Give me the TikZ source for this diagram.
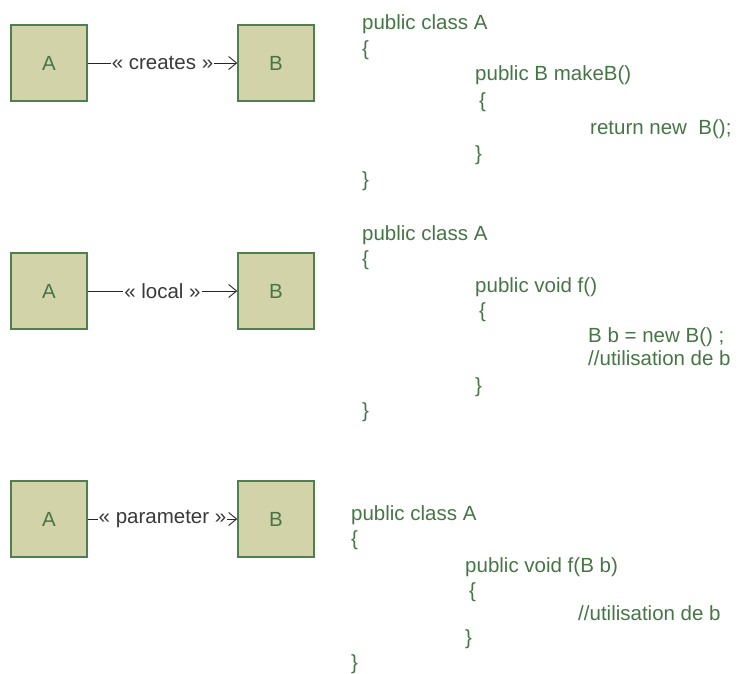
\documentclass[tikz,border=0pt]{standalone}
\usepackage{fontspec}
\setmainfont{Liberation Sans}
\usetikzlibrary{arrows.meta}
\definecolor{boxfill}{HTML}{D3D3AA}
\definecolor{boxline}{HTML}{4F7F4F}
\definecolor{codegreen}{HTML}{467546}
\definecolor{labgray}{HTML}{3A3A3A}
\begin{document}
\begin{tikzpicture}[x=1pt,y=-1pt,
  cls/.style={draw=boxline,line width=1.4pt,fill=boxfill,minimum width=76pt,minimum height=76pt,inner sep=0pt,text=codegreen,font=\fontsize{20.5}{24}\selectfont},
  code/.style={anchor=base west,inner sep=0pt,text=codegreen,font=\fontsize{20.5}{24}\selectfont},
  rel/.style={draw=black!85,line width=0.9pt,-{Straight Barb[length=8pt,width=13pt,line width=0.9pt]}},
  rellab/.style={fill=white,inner sep=1pt,text=labgray,font=\fontsize{20.5}{24}\selectfont}]
\useasboundingbox (0,0) rectangle (739,673);
% row 1
\node[cls] (a1) at (49,63) {A};
\node[cls] (b1) at (276,63) {B};
\draw[rel] (a1) -- node[rellab] (l1) {« creates »} (b1);
\node[code] (c11) at (362,29) {public class A};
\node[code] (c12) at (362,55) {\{};
\node[code] (c13) at (475,80) {public B makeB()};
\node[code] (c14) at (479,107) {\{};
\node[code] (c15) at (590,134) {return new\ \ B();};
\node[code] (c16) at (475,160) {\}};
\node[code] (c17) at (362,186) {\}};
% row 2
\node[cls] (a2) at (49,291) {A};
\node[cls] (b2) at (276,291) {B};
\draw[rel] (a2) -- node[rellab] (l2) {« local »} (b2);
\node[code] (c21) at (362,240) {public class A};
\node[code] (c22) at (362,265) {\{};
\node[code] (c23) at (475,292) {public void f()};
\node[code] (c24) at (479,317) {\{};
\node[code] (c25) at (588,342) {B b = new B() ;};
\node[code] (c26) at (588,365) {//utilisation de b};
\node[code] (c27) at (475,392) {\}};
\node[code] (c28) at (362,417) {\}};
% row 3
\node[cls] (a3) at (49,519) {A};
\node[cls] (b3) at (276,519) {B};
\draw[rel] (a3) -- node[rellab,inner sep=0.5pt] (l3) {« parameter »} (b3);
\node[code] (c31) at (351,520) {public class A};
\node[code] (c32) at (351,545) {\{};
\node[code] (c33) at (465,572) {public void f(B b)};
\node[code] (c34) at (469,597) {\{};
\node[code] (c35) at (578,620) {//utilisation de b};
\node[code] (c36) at (465,644) {\}};
\node[code] (c37) at (351,669) {\}};
\end{tikzpicture}
\end{document}
